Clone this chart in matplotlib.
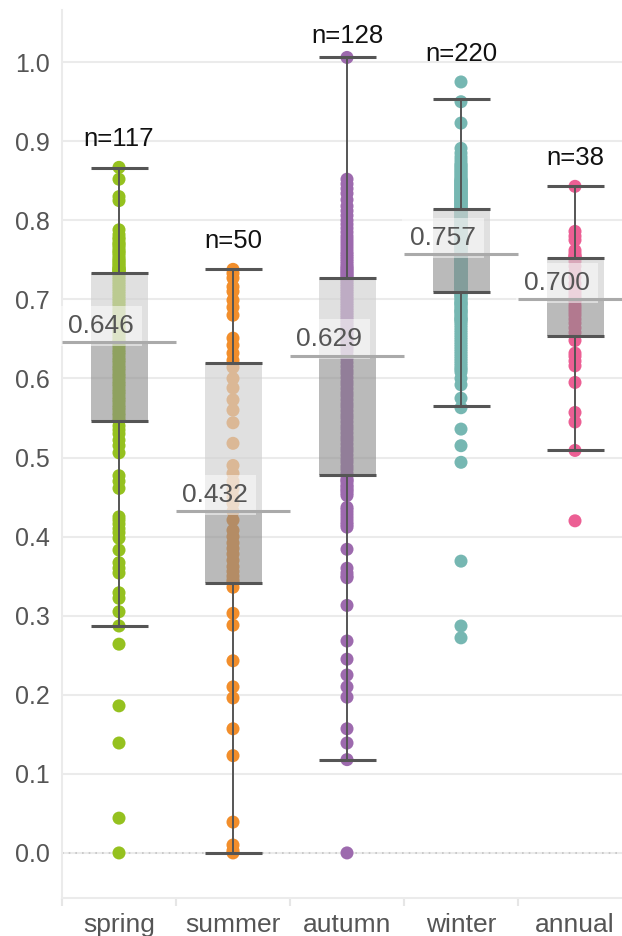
import numpy as np
import matplotlib
matplotlib.use("Agg")
import matplotlib.pyplot as plt

plt.rcParams['font.family'] = ['Liberation Sans', 'DejaVu Sans']

seasons = ["spring", "summer", "autumn", "winter", "annual"]
colors = ["#95c11f", "#f28e2b", "#9d6aae", "#76b7b2", "#ec5f94"]

spring = [
    0.867, 0.852, 0.830, 0.825, 0.788, 0.782, 0.778, 0.776, 0.772, 0.770,
    0.768, 0.765, 0.762, 0.760, 0.758, 0.755, 0.752, 0.750, 0.748, 0.746,
    0.744, 0.742, 0.740, 0.739, 0.738, 0.737, 0.736, 0.735, 0.734,
    0.731, 0.728, 0.725, 0.722, 0.719, 0.716, 0.713, 0.710, 0.707, 0.704,
    0.701, 0.698, 0.695, 0.692, 0.689, 0.686, 0.683, 0.680, 0.677, 0.674,
    0.671, 0.668, 0.665, 0.662, 0.659, 0.656, 0.653, 0.650, 0.647,
    0.646,
    0.643, 0.640, 0.636, 0.633, 0.630, 0.626, 0.623, 0.620, 0.616, 0.613,
    0.610, 0.606, 0.603, 0.600, 0.596, 0.593, 0.590, 0.586, 0.583, 0.580,
    0.576, 0.573, 0.570, 0.566, 0.563, 0.560, 0.556, 0.553, 0.549,
    0.546, 0.540, 0.535, 0.530, 0.522, 0.515, 0.506, 0.477, 0.470, 0.461,
    0.425, 0.421, 0.416, 0.410, 0.405, 0.398, 0.383, 0.367, 0.360, 0.354,
    0.329, 0.322, 0.305, 0.287, 0.264, 0.186, 0.139, 0.044, 0.000,
]

summer = [
    0.738, 0.733, 0.727, 0.716, 0.710, 0.699, 0.690, 0.680, 0.651, 0.642,
    0.632, 0.623,
    0.614, 0.600, 0.588, 0.573, 0.560, 0.544, 0.518, 0.490, 0.480, 0.470,
    0.460, 0.450, 0.442,
    0.432,
    0.421, 0.408, 0.400, 0.392, 0.385, 0.378, 0.370, 0.362, 0.356, 0.350,
    0.345, 0.342,
    0.336, 0.303, 0.288, 0.243, 0.210, 0.196, 0.157, 0.123, 0.039, 0.010,
    0.003, 0.000,
]

autumn = [
    1.006, 0.852, 0.846, 0.840, 0.834, 0.826, 0.818, 0.812, 0.806, 0.800,
    0.795, 0.790, 0.785, 0.780, 0.776, 0.772, 0.768, 0.764, 0.760, 0.757,
    0.754, 0.751, 0.748, 0.745, 0.742, 0.740, 0.738, 0.736, 0.734, 0.732,
    0.730, 0.728,
    0.725, 0.722, 0.719, 0.716, 0.713, 0.710, 0.707, 0.704, 0.701, 0.698,
    0.695, 0.692, 0.689, 0.686, 0.683, 0.680, 0.677, 0.674, 0.671, 0.668,
    0.665, 0.662, 0.659, 0.656, 0.653, 0.650, 0.647, 0.644, 0.641, 0.638,
    0.634,
    0.629,
    0.625, 0.620, 0.615, 0.610, 0.606, 0.601, 0.596, 0.592, 0.587, 0.582,
    0.578, 0.573, 0.568, 0.564, 0.559, 0.554, 0.550, 0.545, 0.540, 0.536,
    0.531, 0.526, 0.522, 0.517, 0.512, 0.508, 0.503, 0.498, 0.494, 0.489,
    0.485, 0.480,
    0.473, 0.471, 0.469, 0.465, 0.463, 0.460, 0.458, 0.455, 0.452, 0.437,
    0.434, 0.430, 0.426, 0.422, 0.418, 0.415, 0.412, 0.384, 0.360, 0.354,
    0.350, 0.348, 0.313, 0.268, 0.245, 0.225, 0.210, 0.197, 0.157, 0.139,
    0.118, 0.000,
]

winter = [
    0.975, 0.950, 0.923, 0.891, 0.885, 0.880, 0.876,
    0.872, 0.870, 0.868, 0.866, 0.864, 0.862, 0.860, 0.858, 0.856, 0.854,
    0.852, 0.851, 0.850, 0.849, 0.848, 0.847, 0.846, 0.845, 0.844, 0.843,
    0.842, 0.841, 0.840, 0.839, 0.838, 0.837, 0.836, 0.835, 0.834, 0.833,
    0.832, 0.831, 0.830, 0.829, 0.828, 0.827, 0.826, 0.825, 0.824, 0.823,
    0.822, 0.821, 0.820, 0.819, 0.818, 0.817, 0.816, 0.815,
    0.813, 0.812, 0.811, 0.810, 0.809, 0.808, 0.807, 0.806, 0.805, 0.804,
    0.803, 0.802, 0.801, 0.800, 0.799, 0.798, 0.797, 0.796, 0.795, 0.794,
    0.793, 0.792, 0.791, 0.790, 0.789, 0.788, 0.787, 0.786, 0.785, 0.784,
    0.783, 0.782, 0.781, 0.780, 0.779, 0.778, 0.777, 0.776, 0.775, 0.774,
    0.773, 0.772, 0.771, 0.770, 0.769, 0.768, 0.767, 0.766, 0.765, 0.764,
    0.763, 0.762, 0.761, 0.760,
    0.757,
    0.756, 0.755, 0.754, 0.753, 0.752, 0.751, 0.750, 0.750, 0.749, 0.748,
    0.747, 0.746, 0.745, 0.745, 0.744, 0.743, 0.742, 0.741, 0.740, 0.740,
    0.739, 0.738, 0.737, 0.736, 0.735, 0.735, 0.734, 0.733, 0.732, 0.731,
    0.730, 0.730, 0.729, 0.728, 0.727, 0.726, 0.725, 0.725, 0.724, 0.723,
    0.722, 0.721, 0.720, 0.720, 0.719, 0.718, 0.717, 0.716, 0.715, 0.715,
    0.714, 0.713, 0.712, 0.711, 0.710,
    0.708, 0.706, 0.705, 0.704, 0.702, 0.700, 0.698, 0.696, 0.695, 0.694,
    0.692, 0.690, 0.688, 0.686, 0.685, 0.684, 0.682, 0.680, 0.678, 0.676,
    0.675, 0.674, 0.672, 0.670, 0.667, 0.664, 0.661, 0.658, 0.655, 0.652,
    0.649, 0.646, 0.643, 0.640, 0.637, 0.634, 0.631, 0.628, 0.625, 0.622,
    0.619, 0.616, 0.613, 0.611,
    0.608, 0.600, 0.592, 0.575, 0.563, 0.536, 0.515, 0.494, 0.369, 0.287,
    0.272,
]

annual = [
    0.843, 0.786, 0.780, 0.775, 0.762, 0.758, 0.755, 0.754, 0.753,
    0.748, 0.742, 0.735, 0.728, 0.720, 0.714, 0.710, 0.706, 0.702,
    0.700,
    0.697, 0.692, 0.688, 0.684, 0.680, 0.675, 0.670, 0.664, 0.658,
    0.648, 0.632, 0.628, 0.622, 0.616, 0.595, 0.557, 0.545, 0.509, 0.420,
]

# box summary per season
q1 = [0.546, 0.341, 0.478, 0.709, 0.654]
medians = [0.646, 0.432, 0.629, 0.757, 0.700]
q3 = [0.733, 0.620, 0.727, 0.814, 0.752]
whisker_lo = [0.287, 0.000, 0.118, 0.565, 0.509]
whisker_hi = [0.866, 0.738, 1.006, 0.953, 0.843]

series = [spring, summer, autumn, winter, annual]

fig = plt.figure(figsize=(6.22, 9.36), dpi=100)
ax = fig.add_axes([62 / 622, 38 / 936, 570 / 622, 888 / 936])
ax.set_xlim(-0.5, 4.5)
ax.set_ylim(-0.057, 1.066)

# axes styling
ax.set_yticks(np.round(np.arange(0, 1.01, 0.1), 1))
ax.set_yticklabels([f"{v:.1f}" for v in np.arange(0, 1.01, 0.1)])
ax.yaxis.grid(True, color="#ebebeb", lw=1.5)
ax.set_axisbelow(True)
ax.tick_params(axis="y", length=0, pad=9, labelsize=18, labelcolor="#555555")
ax.set_xticks(range(len(seasons)))
ax.set_xticklabels(seasons)
ax.set_xticks(np.arange(-0.5, 4.6, 1.0), minor=True)
ax.tick_params(axis="x", which="major", length=0, pad=11, labelsize=19,
               labelcolor="#555555")
ax.tick_params(axis="x", which="minor", length=6, width=1.5, color="#e6e6e6")
for side in ("top", "right"):
    ax.spines[side].set_visible(False)
for side in ("left", "bottom"):
    ax.spines[side].set_color("#ebebeb")
    ax.spines[side].set_linewidth(1.5)

ax.axhline(0, color="#c4c4c4", lw=1.2, ls=(0, (1, 3)), zorder=1)

hw = 0.25
for i, (vals, col) in enumerate(zip(series, colors)):
    vals = np.asarray(vals)
    ax.scatter(np.full(len(vals), i), vals, s=88, color=col,
               edgecolors="none", zorder=2)

    # box halves: lower (q1..median) darker, upper (median..q3) lighter
    ax.bar(i, medians[i] - q1[i], bottom=q1[i], width=2 * hw,
           color="#8c8c8c", alpha=0.6, lw=0, zorder=3)
    ax.bar(i, q3[i] - medians[i], bottom=medians[i], width=2 * hw,
           color="#d0d0d0", alpha=0.65, lw=0, zorder=3)

    ax.vlines(i, q3[i], whisker_hi[i], color="#555555", lw=1.4, zorder=4)
    ax.vlines(i, whisker_lo[i], q1[i], color="#555555", lw=1.4, zorder=4)
    ax.hlines([whisker_lo[i], q1[i], q3[i], whisker_hi[i]], i - hw, i + hw,
              color="#555555", lw=2.2, zorder=4)

    ax.annotate(f"{medians[i]:.3f}", (i - 0.16, medians[i]), xytext=(0, 3),
                textcoords="offset points", ha="center", va="bottom",
                fontsize=19, color="#555555", zorder=5,
                bbox=dict(boxstyle="square,pad=0.3", fc="white", ec="none",
                          alpha=0.5))
    ax.hlines(medians[i], i - 0.5, i + 0.5, color="#aaaaaa", lw=2.2, zorder=6)

    top = max(vals.max(), whisker_hi[i])
    ax.text(i, min(top + 0.0265, 1.024), f"n={len(vals)}", ha="center",
            va="baseline", fontsize=18.5, color="#111111", zorder=7)

fig.savefig("out.png", dpi=100)
